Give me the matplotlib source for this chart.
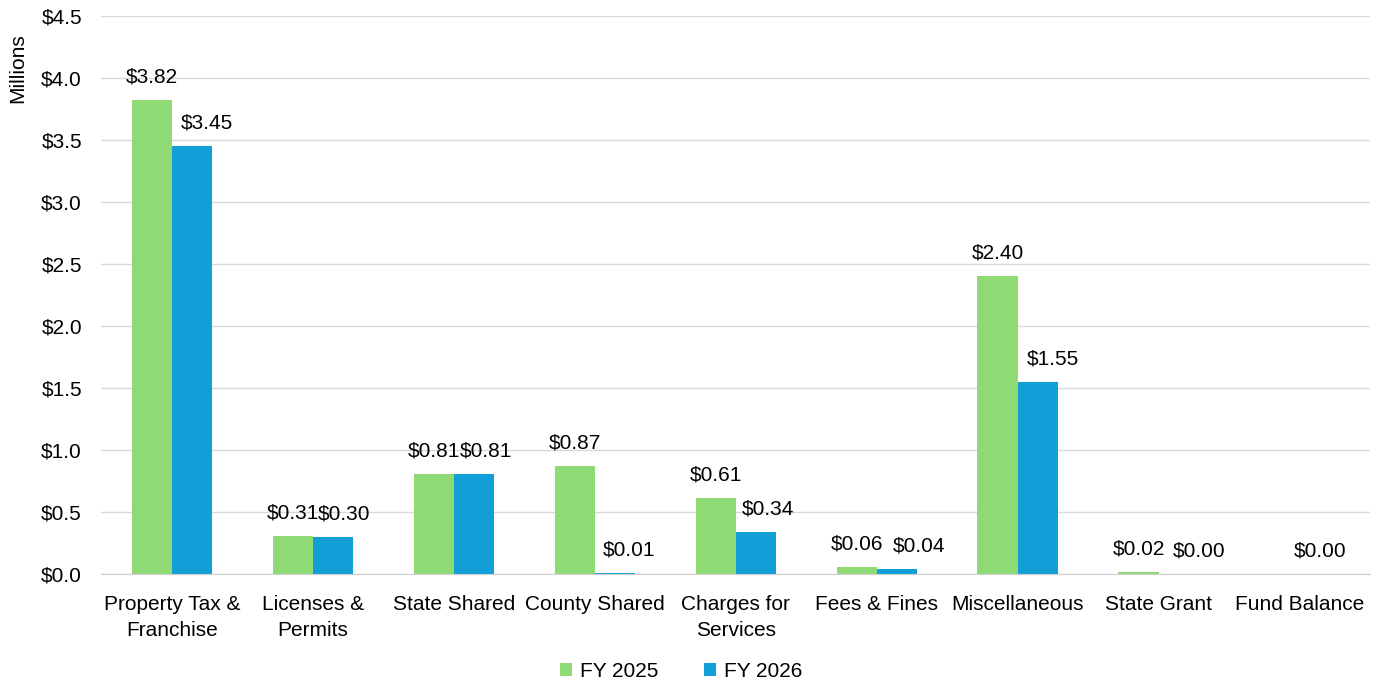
import numpy as np
import matplotlib.pyplot as plt

categories = ["Property Tax &\nFranchise", "Licenses &\nPermits", "State Shared", "County Shared",
              "Charges for\nServices", "Fees & Fines", "Miscellaneous", "State Grant", "Fund Balance"]
fy2025 = [3.82, 0.31, 0.81, 0.87, 0.61, 0.06, 2.40, 0.02, np.nan]
fy2026 = [3.45, 0.30, 0.81, 0.01, 0.34, 0.04, 1.55, 0.00, 0.00]
yticks = [0, 0.5, 1.0, 1.5, 2.0, 2.5, 3.0, 3.5, 4.0, 4.5]

plt.rcParams['font.family'] = ['Liberation Sans', 'DejaVu Sans']
fs = 15

fig = plt.figure(figsize=(13.8, 6.84), dpi=100)
ax = fig.add_axes([0.0735, 0.1608, 0.9193, 0.8158])

x = np.arange(len(categories))
w = 0.285
green = "#8FDA74"
blue = "#129FD7"

b1 = ax.bar(x - w / 2, fy2025, w, color=green, label="FY 2025", zorder=3)
b2 = ax.bar(x + w / 2, fy2026, w, color=blue, label="FY 2026", zorder=3)

# labels of the second series are nudged right so they clear the first (points)
shift2026 = [11, 8, 9, 10, 9, 16, 11, 15, 0]
for bars, vals, shifts in ((b1, fy2025, [0] * 9), (b2, fy2026, shift2026)):
    for rect, v, dx in zip(bars, vals, shifts):
        if np.isnan(v):
            continue
        ax.annotate("${:.2f}".format(v), (rect.get_x() + rect.get_width() / 2, v),
                    xytext=(dx, 16.5), textcoords="offset points", ha="center", va="center",
                    fontsize=fs, color="#000000")

ax.set_xlim(-0.5, len(categories) - 0.5)
ax.set_ylim(0, 4.5)
ax.set_yticks(yticks)
ax.set_yticklabels(["${:.1f}".format(t) for t in yticks], fontsize=fs)
ax.set_xticks(x)
ax.set_xticklabels(categories, fontsize=fs, linespacing=1.45)
ax.tick_params(axis="x", length=0, pad=15)
ax.tick_params(axis="y", length=0, pad=14)
ax.yaxis.grid(True, color="#D9D9D9", linewidth=1, zorder=0)
for s in ["top", "right", "left"]:
    ax.spines[s].set_visible(False)
ax.spines["bottom"].set_color("#D0D0D0")
ax.spines["bottom"].set_zorder(4)

fig.text(0.013, 0.9, "Millions", rotation=90, fontsize=fs, ha="center", va="center")

fig.legend(handles=[b1, b2], loc="center", bbox_to_anchor=(0.4935, 0.018), ncol=2, frameon=False,
           fontsize=fs, handlelength=0.6, handleheight=0.6, handletextpad=0.35, columnspacing=2.2)

fig.savefig("out.png", dpi=100)
